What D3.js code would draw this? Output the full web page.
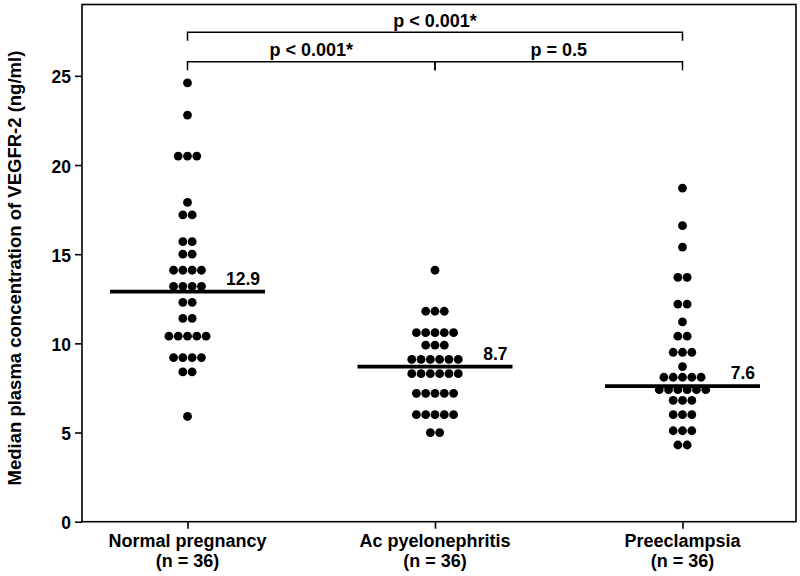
<!DOCTYPE html>
<html><head><meta charset="utf-8">
<script src="https://cdn.jsdelivr.net/npm/d3@7"></script>
<style>
body{margin:0;background:#fff}
text{font-family:"Liberation Sans",Arial,Helvetica,sans-serif;font-weight:bold;fill:#000}
</style>
</head><body>
<svg id="c" width="800" height="576"></svg>
<script>
const categories = ["Normal pregnancy", "Ac pyelonephritis", "Preeclampsia"];
const nLabels = ["(n = 36)", "(n = 36)", "(n = 36)"];
const normalValues = [24.6, 22.8, 20.5, 20.5, 20.5, 17.9, 17.2, 17.2, 15.7, 15.7, 15.0, 15.0,
  14.1, 14.1, 14.1, 14.1, 13.2, 13.2, 13.2, 13.2, 12.3, 12.3, 11.4, 11.4,
  10.4, 10.4, 10.4, 10.4, 10.4, 9.2, 9.2, 9.2, 9.2, 8.4, 8.4, 5.9];
const pyeloValues = [14.1, 11.8, 11.8, 11.8, 10.6, 10.6, 10.6, 10.6, 10.6, 9.9, 9.9, 9.9,
  9.1, 9.1, 9.1, 9.1, 9.1, 9.1, 8.3, 8.3, 8.3, 8.3, 8.3, 8.3,
  7.2, 7.2, 7.2, 7.2, 7.2, 6.0, 6.0, 6.0, 6.0, 6.0, 5.0, 5.0];
const preecValues = [18.7, 16.6, 15.4, 13.7, 13.7, 12.2, 12.2, 11.2, 10.4, 10.4, 9.5, 9.5, 9.5,
  8.7, 8.1, 8.1, 8.1, 8.1, 8.1, 7.4, 7.4, 7.4, 7.4, 7.4, 7.4,
  6.8, 6.8, 6.8, 6.0, 6.0, 6.0, 5.1, 5.1, 5.1, 4.3, 4.3];
const medians = [12.9, 8.7, 7.6];
const medianLabels = ["12.9", "8.7", "7.6"];
const yTicks = [0, 5, 10, 15, 20, 25];
const compFrom = [0, 1, 0];
const compTo = [1, 2, 2];
const compLevel = [0, 0, 1];
const compLabels = ["p < 0.001*", "p = 0.5", "p < 0.001*"];
const yTitle = "Median plasma concentration of VEGFR-2 (ng/ml)";

const groups = [normalValues, pyeloValues, preecValues];

const svg = d3.select("#c");
const L = 82, R = 796, T = 4.5, B = 521.7;

const y = d3.scaleLinear().domain([0, 29]).range([B, T]);
const x = d3.scalePoint().domain(categories).range([187.5, 682.5]);

// frame
svg.append("rect").attr("x", L).attr("y", T).attr("width", R - L).attr("height", B - T)
  .attr("fill", "none").attr("stroke", "#000").attr("stroke-width", 1.6);

// y axis
const yAxis = d3.axisLeft(y).tickValues(yTicks).tickSize(7).tickPadding(4);
const gy = svg.append("g").attr("transform", `translate(${L},0)`).call(yAxis);
gy.select(".domain").remove();
gy.selectAll(".tick line").attr("stroke", "#000").attr("stroke-width", 1.6);
gy.selectAll(".tick text").attr("font-size", 17.5).attr("dy", "0.4em")
  .style("font-family", "'Liberation Sans',Arial,sans-serif").style("font-weight", "bold");

// x axis
const xAxis = d3.axisBottom(x).tickSize(7).tickFormat("");
const gx = svg.append("g").attr("transform", `translate(0,${B})`).call(xAxis);
gx.select(".domain").remove();
gx.selectAll(".tick line").attr("stroke", "#000").attr("stroke-width", 1.6);
categories.forEach((c, i) => {
  svg.append("text").attr("x", x(c)).attr("y", 547).attr("text-anchor", "middle")
    .attr("font-size", 18).text(c);
  svg.append("text").attr("x", x(c)).attr("y", 566.5).attr("text-anchor", "middle")
    .attr("font-size", 18).text(nLabels[i]);
});

// y title
svg.append("text").attr("transform", `translate(21,${(T + B) / 2 + 5}) rotate(-90)`)
  .attr("text-anchor", "middle").attr("font-size", 18.5).text(yTitle);

// dots (rows of equal values, centred)
const dx = 9.3, r = 4.4;
groups.forEach((vals, gi) => {
  const rows = d3.groups(vals, v => v);
  const pts = [];
  rows.forEach(([v, arr]) => {
    arr.forEach((_, k) => pts.push({v, off: (k - (arr.length - 1) / 2) * dx}));
  });
  svg.append("g").selectAll("circle").data(pts).join("circle")
    .attr("cx", d => x(categories[gi]) + d.off)
    .attr("cy", d => y(d.v))
    .attr("r", r).attr("fill", "#000");
});

// medians
const halfW = 77.5;
medians.forEach((m, i) => {
  const cx = x(categories[i]);
  svg.append("line").attr("x1", cx - halfW).attr("x2", cx + halfW)
    .attr("y1", y(m)).attr("y2", y(m)).attr("stroke", "#000").attr("stroke-width", 3.8);
  svg.append("text").attr("x", cx + halfW - 5).attr("y", y(m) - 7)
    .attr("text-anchor", "end").attr("font-size", 17.5).text(medianLabels[i]);
});

// significance brackets
const levelY = [61.7, 32.3];
const drop = 8.5;
compFrom.forEach((f, i) => {
  const x1 = x(categories[f]), x2 = x(categories[compTo[i]]);
  const yb = levelY[compLevel[i]];
  svg.append("path").attr("d", `M${x1},${yb + drop}V${yb}H${x2}V${yb + drop}`)
    .attr("fill", "none").attr("stroke", "#000").attr("stroke-width", 1.5);
  svg.append("text").attr("x", (x1 + x2) / 2).attr("y", yb - 5.5)
    .attr("text-anchor", "middle").attr("font-size", 18).text(compLabels[i]);
});
</script>
</body></html>
